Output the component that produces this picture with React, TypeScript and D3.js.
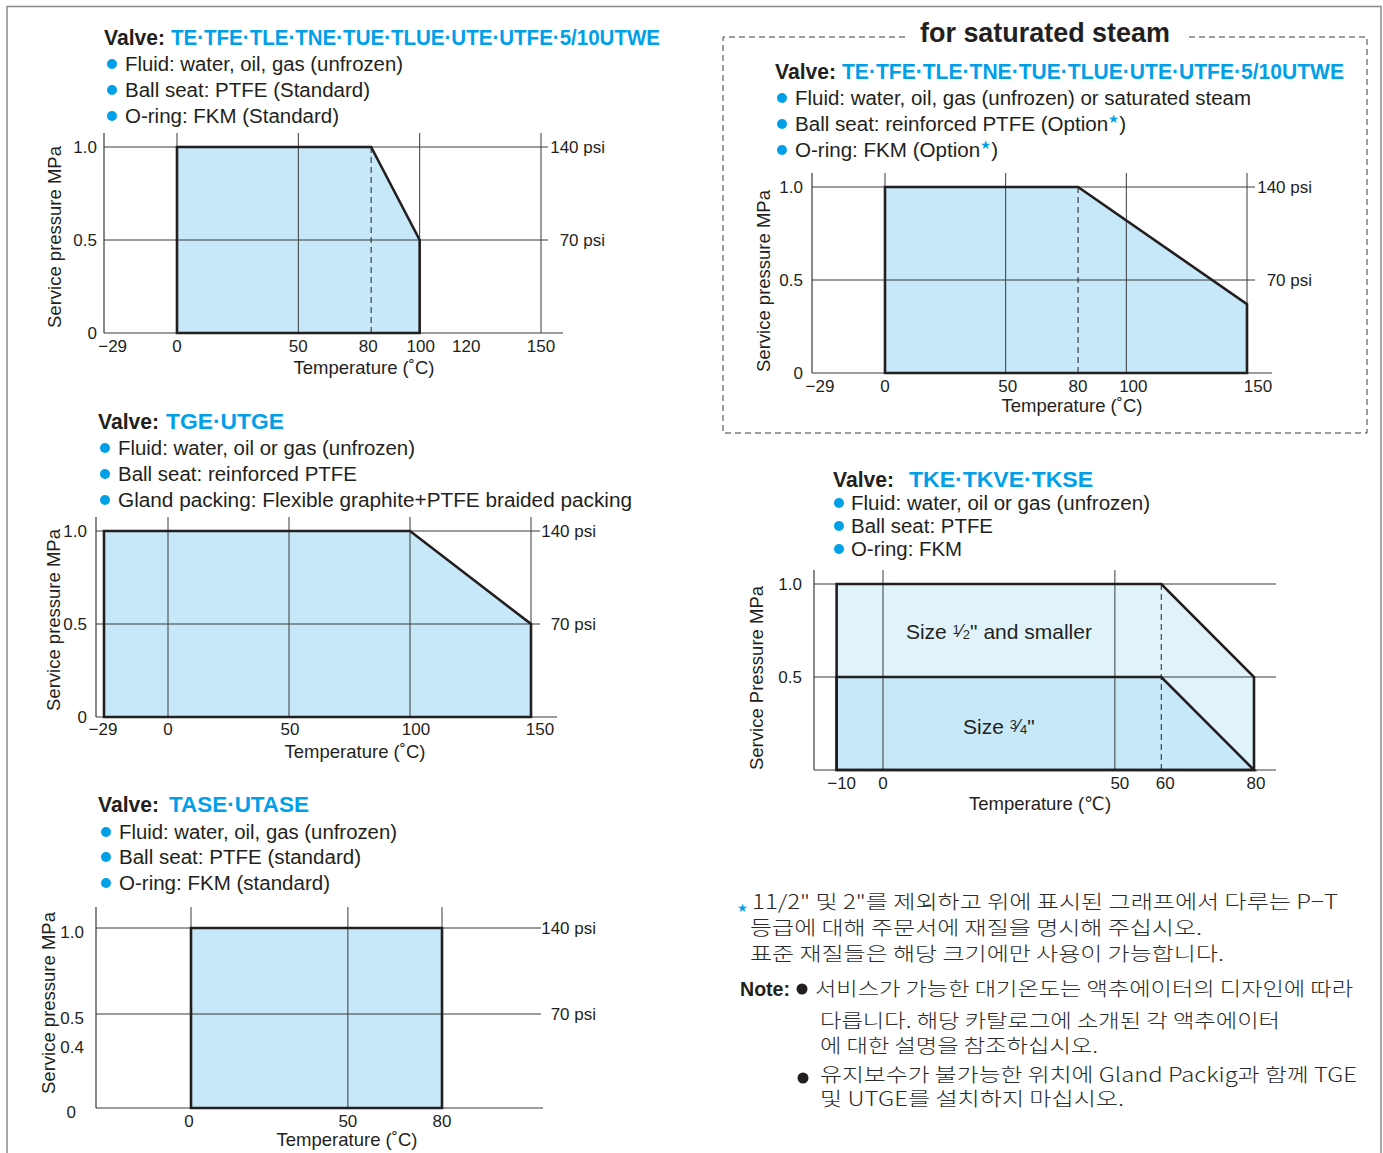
import * as d3 from "d3";

const FONT = "'Liberation Sans', Arial, 'DejaVu Sans', sans-serif";
const KFONT = "'Noto Sans CJK KR', 'Noto Sans', sans-serif";
const CYAN = "#00a0e9";
const INK = "#231f20";
const FILL = "#c7e8f8";
const FILL_LIGHT = "#e0f3fb";

// ---- TE/TFE... (standard)
const p1Models = "TE·TFE·TLE·TNE·TUE·TLUE·UTE·UTFE·5/10UTWE";
const p1Specs = ["Fluid: water, oil, gas (unfrozen)", "Ball seat: PTFE (Standard)", "O-ring: FKM (Standard)"];
const p1XLabels = [-29, 0, 50, 80, 100, 120, 150];
const p1XGrid = [0, 50, 100, 150];
const p1Dashed = [80];
const p1YLabels = [0, 0.5, 1.0];
const p1YGrid = [0.5, 1.0];
const p1Psi = ["70 psi", "140 psi"];
const p1Temp = [0, 0, 80, 100, 100];
const p1Press = [0, 1.0, 1.0, 0.5, 0];

// ---- TGE/UTGE
const p2Models = "TGE·UTGE";
const p2Specs = ["Fluid: water, oil or gas (unfrozen)", "Ball seat: reinforced PTFE", "Gland packing: Flexible graphite+PTFE braided packing"];
const p2XLabels = [-29, 0, 50, 100, 150];
const p2XGrid = [0, 50, 100, 150];
const p2YLabels = [0, 0.5, 1.0];
const p2YGrid = [0.5, 1.0];
const p2Psi = ["70 psi", "140 psi"];
const p2Temp = [-29, -29, 100, 150, 150];
const p2Press = [0, 1.0, 1.0, 0.5, 0];

// ---- TASE/UTASE
const p3Models = "TASE·UTASE";
const p3Specs = ["Fluid: water, oil, gas (unfrozen)", "Ball seat: PTFE (standard)", "O-ring: FKM (standard)"];
const p3XLabels = [0, 50, 80];
const p3XGrid = [0, 50, 80];
const p3YLabels = [0, 0.4, 0.5, 1.0];
const p3YGrid = [0.5, 1.0];
const p3Psi = ["70 psi", "140 psi"];
const p3Temp = [0, 0, 80, 80];
const p3Press = [0, 1.0, 1.0, 0];

// ---- saturated steam
const steamTitle = "for saturated steam";
const p4Models = "TE·TFE·TLE·TNE·TUE·TLUE·UTE·UTFE·5/10UTWE";
const p4Specs = ["Fluid: water, oil, gas (unfrozen) or saturated steam", "Ball seat: reinforced PTFE (Option★)", "O-ring: FKM (Option★)"];
const p4XLabels = [-29, 0, 50, 80, 100, 150];
const p4XGrid = [0, 50, 100, 150];
const p4Dashed = [80];
const p4YLabels = [0, 0.5, 1.0];
const p4YGrid = [0.5, 1.0];
const p4Psi = ["70 psi", "140 psi"];
const p4Temp = [0, 0, 80, 150, 150];
const p4Press = [0, 1.0, 1.0, 0.37, 0];

// ---- TKE/TKVE/TKSE
const p5Models = "TKE·TKVE·TKSE";
const p5Specs = ["Fluid: water, oil or gas (unfrozen)", "Ball seat: PTFE", "O-ring: FKM"];
const p5XLabels = [-10, 0, 50, 60, 80];
const p5XGrid = [0, 50];
const p5Dashed = [60];
const p5YLabels = [0.5, 1.0];
const p5YGrid = [0.5, 1.0];
const p5SmallTemp = [-10, -10, 60, 80, 80];
const p5SmallPress = [0, 1.0, 1.0, 0.5, 0];
const p5MidTemp = [-10, -10, 60, 80];
const p5MidPress = [0, 0.5, 0.5, 0];

// ---- notes
const starNote = [
  "11/2\" 및 2\"를 제외하고 위에 표시된 그래프에서 다루는 P−T",
  "등급에 대해 주문서에 재질을 명시해 주십시오.",
  "표준 재질들은 해당 크기에만 사용이 가능합니다.",
];
const note1 = ["서비스가 가능한 대기온도는 액추에이터의 디자인에 따라", "다릅니다. 해당 카탈로그에 소개된 각 액추에이터", "에 대한 설명을 참조하십시오."];
const note2 = ["유지보수가 불가능한 위치에 Gland Packig과 함께 TGE", "및 UTGE를 설치하지 마십시오."];

type Region = { t: number[]; p: number[]; fill: string };
type Data = {
  models: string; specs: string[]; xLabels: number[]; xGrid: number[]; dashed: number[];
  yLabels: number[]; yGrid: number[]; psi: string[]; regions: Region[]; yTitle: string; xTitle: string;
};
type Layout = {
  xDom: number[]; xRng: number[]; yDom: number[]; yRng: number[];
  axisL: number; axisR: number; top: number; gridR: number; psiX: number;
  xLabY: number; xLabDx: number[]; yLabX: number; yLabDy: number; zeroX?: number;
  tempX: number; tempY: number; yTitleX: number; yTitleY: number;
  titleX: number; titleY: number; valveW: number; modelsX: number; modelsW: number;
  specX: number; specY: number[]; specW: number[]; dotX: number;
};

const fmt = (v: number) => (v < 0 ? "−" + Math.abs(v) : v === 0 ? "0" : Number.isInteger(v) && v > 1 ? String(v) : v.toFixed(1));

function SpecLine({ text, x, y, w }: { text: string; x: number; y: number; w: number }) {
  const parts = text.split("★");
  return (
    <text x={x} y={y} fontSize={20} fill={INK} fontFamily={FONT} textLength={w} lengthAdjust="spacingAndGlyphs">
      {parts[0]}
      {parts.length > 1 && (
        <>
          <tspan fill={CYAN} fontSize={12} dy={-8}>★</tspan>
          <tspan dy={8}>{parts[1]}</tspan>
        </>
      )}
    </text>
  );
}

function Panel({ d, L, children }: { d: Data; L: Layout; children?: any }) {
  const x = d3.scaleLinear().domain(L.xDom).range(L.xRng);
  const y = d3.scaleLinear().domain(L.yDom).range(L.yRng);
  const y0 = y(0);
  const yTop = y(d3.max(d.yGrid) as number);
  const line = d3.line<[number, number]>().x((p) => x(p[0])).y((p) => y(p[1]));

  return (
    <g>
      <text x={L.titleX} y={L.titleY} fontSize={22} fontWeight="bold" fill={INK} fontFamily={FONT} textLength={L.valveW} lengthAdjust="spacingAndGlyphs">Valve:</text>
      <text x={L.modelsX} y={L.titleY} fontSize={22} fontWeight="bold" fill={CYAN} fontFamily={FONT} textLength={L.modelsW} lengthAdjust="spacingAndGlyphs">{d.models}</text>
      {d.specs.map((s, i) => (
        <g key={i}>
          <circle cx={L.dotX} cy={L.specY[i] - 7} r={5} fill={CYAN} />
          <SpecLine text={s} x={L.specX} y={L.specY[i]} w={L.specW[i]} />
        </g>
      ))}

      {d.regions.map((r, i) => (
        <path key={"f" + i} d={line(d3.zip(r.t, r.p) as [number, number][]) + "Z"} fill={r.fill} stroke="none" />
      ))}

      {d.xGrid.map((v) => (
        <line key={"vx" + v} x1={x(v)} x2={x(v)} y1={L.top} y2={y0} stroke="#3a3a3a" strokeWidth={1} />
      ))}
      {d.yGrid.map((v) => (
        <line key={"hy" + v} x1={L.axisL} x2={L.gridR} y1={y(v)} y2={y(v)} stroke="#3a3a3a" strokeWidth={1} />
      ))}
      <line x1={L.axisL} x2={L.axisL} y1={L.top} y2={y0} stroke="#3a3a3a" strokeWidth={1.2} />
      <line x1={L.axisL} x2={L.axisR} y1={y0} y2={y0} stroke="#3a3a3a" strokeWidth={1.2} />

      {d.regions.map((r, i) => (
        <path key={"s" + i} d={line(d3.zip(r.t, r.p) as [number, number][]) + "Z"} fill="none" stroke={INK} strokeWidth={2.6} strokeLinejoin="miter" />
      ))}
      {d.dashed.map((v) => (
        <line key={"dx" + v} x1={x(v)} x2={x(v)} y1={yTop} y2={y0} stroke={INK} strokeWidth={1} strokeDasharray="6,4" />
      ))}

      {d.psi.map((s, i) => (
        <text key={"psi" + i} x={L.psiX} y={y(d.yGrid[i]) + 6} fontSize={17} fill={INK} fontFamily={FONT} textAnchor="end">{s}</text>
      ))}
      {d.yLabels.map((v) => (
        <text key={"yl" + v} x={v === 0 && L.zeroX ? L.zeroX : L.yLabX} y={y(v) + L.yLabDy} fontSize={17} fill={INK} fontFamily={FONT} textAnchor="end">{fmt(v)}</text>
      ))}
      {d.xLabels.map((v, i) => (
        <text key={"xl" + v} x={x(v) + (L.xLabDx[i] || 0)} y={L.xLabY} fontSize={17} fill={INK} fontFamily={FONT} textAnchor="middle">{fmt(v)}</text>
      ))}
      <text x={L.tempX} y={L.tempY} fontSize={18.5} fill={INK} fontFamily={FONT} textAnchor="middle">{d.xTitle}</text>
      <text transform={`translate(${L.yTitleX},${L.yTitleY}) rotate(-90)`} fontSize={18.5} fill={INK} fontFamily={FONT} textAnchor="middle">{d.yTitle}</text>
      {children && children(x, y)}
    </g>
  );
}

const d1: Data = { models: p1Models, specs: p1Specs, xLabels: p1XLabels, xGrid: p1XGrid, dashed: p1Dashed, yLabels: p1YLabels, yGrid: p1YGrid, psi: p1Psi, regions: [{ t: p1Temp, p: p1Press, fill: FILL }], yTitle: "Service pressure MPa", xTitle: "Temperature (˚C)" };
const d2: Data = { models: p2Models, specs: p2Specs, xLabels: p2XLabels, xGrid: p2XGrid, dashed: [], yLabels: p2YLabels, yGrid: p2YGrid, psi: p2Psi, regions: [{ t: p2Temp, p: p2Press, fill: FILL }], yTitle: "Service pressure MPa", xTitle: "Temperature (˚C)" };
const d3d: Data = { models: p3Models, specs: p3Specs, xLabels: p3XLabels, xGrid: p3XGrid, dashed: [], yLabels: p3YLabels, yGrid: p3YGrid, psi: p3Psi, regions: [{ t: p3Temp, p: p3Press, fill: FILL }], yTitle: "Service pressure MPa", xTitle: "Temperature (˚C)" };
const d4: Data = { models: p4Models, specs: p4Specs, xLabels: p4XLabels, xGrid: p4XGrid, dashed: p4Dashed, yLabels: p4YLabels, yGrid: p4YGrid, psi: p4Psi, regions: [{ t: p4Temp, p: p4Press, fill: FILL }], yTitle: "Service pressure MPa", xTitle: "Temperature (˚C)" };
const d5: Data = { models: p5Models, specs: p5Specs, xLabels: p5XLabels, xGrid: p5XGrid, dashed: p5Dashed, yLabels: p5YLabels, yGrid: p5YGrid, psi: [], regions: [{ t: p5SmallTemp, p: p5SmallPress, fill: FILL_LIGHT }, { t: p5MidTemp, p: p5MidPress, fill: FILL }], yTitle: "Service Pressure MPa", xTitle: "Temperature (℃)" };

const L1: Layout = { xDom: [0, 150], xRng: [177, 541], yDom: [0, 1], yRng: [333, 147], axisL: 104, axisR: 563, top: 133, gridR: 548, psiX: 605, xLabY: 352, xLabDx: [6, 0, 0, -3, 1, -2, 0], yLabX: 97, yLabDy: 6, tempX: 364, tempY: 374, yTitleX: 61, yTitleY: 237, titleX: 104, titleY: 45, valveW: 61, modelsX: 171, modelsW: 489, specX: 125, specY: [71, 97, 123], specW: [278, 245, 214], dotX: 112 };
const L2: Layout = { xDom: [-29, 0, 150], xRng: [104, 168, 531], yDom: [0, 1], yRng: [717, 531], axisL: 96, axisR: 557, top: 517, gridR: 540, psiX: 596, xLabY: 735, xLabDx: [-1, 0, 1, 6, 9], yLabX: 87, yLabDy: 6, tempX: 355, tempY: 758, yTitleX: 60, yTitleY: 620, titleX: 98, titleY: 429, valveW: 61, modelsX: 166, modelsW: 118, specX: 118, specY: [455, 481, 507], specW: [297, 239, 514], dotX: 105 };
const L3: Layout = { xDom: [0, 80], xRng: [191, 442], yDom: [0, 0.4, 0.5, 1], yRng: [1108, 1043, 1014, 928], axisL: 96, axisR: 543, top: 907, gridR: 541, psiX: 596, xLabY: 1127, xLabDx: [-2, 0, 0], yLabX: 84, yLabDy: 10, zeroX: 76, tempX: 347, tempY: 1146, yTitleX: 55, yTitleY: 1003, titleX: 98, titleY: 812, valveW: 61, modelsX: 169, modelsW: 140, specX: 119, specY: [839, 864, 890], specW: [278, 242, 211], dotX: 106 };
const L4: Layout = { xDom: [0, 150], xRng: [885, 1247], yDom: [0, 1], yRng: [373, 187], axisL: 812, axisR: 1272, top: 173, gridR: 1255, psiX: 1312, xLabY: 392, xLabDx: [5, 0, 2, 0, 7, 11], yLabX: 803, yLabDy: 6, tempX: 1072, tempY: 412, yTitleX: 770, yTitleY: 281, titleX: 775, titleY: 79, valveW: 61, modelsX: 842, modelsW: 502, specX: 795, specY: [105, 131, 157], specW: [456, 331, 203], dotX: 782 };
const L5: Layout = { xDom: [0, 80], xRng: [883, 1254], yDom: [0, 1], yRng: [770, 584], axisL: 814, axisR: 1276, top: 570, gridR: 1276, psiX: 0, xLabY: 789, xLabDx: [5, 0, 5, 4, 2], yLabX: 802, yLabDy: 6, tempX: 1040, tempY: 810, yTitleX: 763, yTitleY: 678, titleX: 833, titleY: 487, valveW: 61, modelsX: 909, modelsW: 184, specX: 851, specY: [510, 533, 556], specW: [299, 142, 111], dotX: 839 };

function Frac({ n, d }: { n: string; d: string }) {
  return (
    <>
      <tspan fontSize={13} dy={-5}>{n}</tspan>
      <tspan fontSize={18} dy={3}>⁄</tspan>
      <tspan fontSize={13} dy={2}>{d}</tspan>
      <tspan fontSize={21} dy={0}>"</tspan>
    </>
  );
}

export default function App() {
  const kText = (s: string, x: number, y: number, w: number, k: string) => (
    <text key={k} x={x} y={y} fontSize={19.5} fontWeight={300} fill="#2b2b2b" fontFamily={KFONT} textLength={w} lengthAdjust="spacingAndGlyphs">{s}</text>
  );
  return (
    <>
      <style>{"body{margin:0}"}</style>
      <svg width={1383} height={1153} viewBox="0 0 1383 1153" style={{ display: "block", background: "#fff" }}>
        <path d="M7,1153 V6.5 H1381 V1153" fill="none" stroke="#8a8a8a" strokeWidth={1.5} />

        <Panel d={d1} L={L1} />
        <Panel d={d2} L={L2} />
        <Panel d={d3d} L={L3} />

        {/* saturated steam box */}
        <path d="M905,37 H723 V433 H1367 V37 H1185" fill="none" stroke="#3a3a3a" strokeWidth={1} strokeDasharray="6,4" />
        <text x={920} y={42} fontSize={28} fontWeight="bold" fill={INK} fontFamily={FONT} textLength={250} lengthAdjust="spacingAndGlyphs">{steamTitle}</text>
        <Panel d={d4} L={L4} />

        <Panel d={d5} L={L5}>
          {(x: any, y: any) => (
            <g fontFamily={FONT} fill={INK}>
              <text x={x(25)} y={y(0.75) + 8} fontSize={21} textAnchor="middle">Size <Frac n="1" d="2" /><tspan> and smaller</tspan></text>
              <text x={x(25)} y={y(0.25) + 10} fontSize={21} textAnchor="middle">Size <Frac n="3" d="4" /></text>
            </g>
          )}
        </Panel>

        {/* notes */}
        <text x={737} y={912} fontSize={12} fill={CYAN} fontFamily="'DejaVu Sans', sans-serif">★</text>
        {kText(starNote[0], 752, 909, 586, "s0")}
        {kText(starNote[1], 750, 935, 452, "s1")}
        {kText(starNote[2], 750, 961, 474, "s2")}
        <text x={740} y={996} fontSize={20} fontWeight="bold" fill={INK} fontFamily={FONT} textLength={50} lengthAdjust="spacingAndGlyphs">Note:</text>
        <circle cx={802} cy={989} r={5.5} fill={INK} />
        {kText(note1[0], 815, 996, 538, "n0")}
        {kText(note1[1], 820, 1028, 460, "n1")}
        {kText(note1[2], 820, 1053, 278, "n2")}
        <circle cx={803} cy={1078} r={5.5} fill={INK} />
        {kText(note2[0], 820, 1082, 537, "m0")}
        {kText(note2[1], 820, 1106, 304, "m1")}
      </svg>
    </>
  );
}
